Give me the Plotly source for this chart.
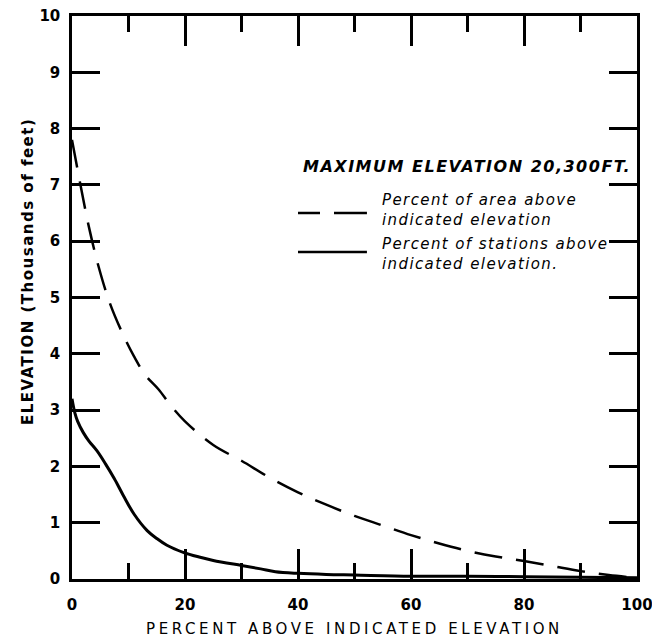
import plotly.graph_objects as go

# Percent of area above indicated elevation (dashed)
area_pct = [0, 1.5, 3, 4.7, 6.7, 9, 11, 13, 15.3, 17.5, 20, 25, 30, 35, 40, 45, 50,
            55, 60, 65, 70, 75, 80, 85, 90, 95, 100]
area_elev = [7.8, 7.0, 6.25, 5.55, 4.9, 4.35, 3.95, 3.62, 3.37, 3.08, 2.8, 2.38, 2.1,
             1.8, 1.54, 1.32, 1.12, 0.95, 0.78, 0.63, 0.5, 0.4, 0.32, 0.23, 0.14, 0.07, 0.02]

# Percent of stations above indicated elevation (solid)
stn_pct = [0, 0.5, 1, 2, 3, 4.4, 5.9, 7.5, 9.1, 11, 13.3, 15, 16.8, 19.8, 22.5, 25, 30,
           33.4, 36, 40, 45, 50, 60, 70, 80, 90, 100]
stn_elev = [3.2, 2.95, 2.8, 2.6, 2.45, 2.28, 2.05, 1.78, 1.48, 1.15, 0.86, 0.72, 0.6,
            0.47, 0.39, 0.33, 0.24, 0.18, 0.13, 0.1, 0.08, 0.07, 0.05, 0.05, 0.04, 0.03, 0.02]

x_major = [0, 20, 40, 60, 80, 100]
x_minor = [10, 30, 50, 70, 90]
y_ticks = list(range(0, 11))

header = "MAXIMUM ELEVATION 20,300FT."
label_area = "Percent of area above<br>indicated elevation"
label_stn = "Percent of stations above<br>indicated elevation."
x_title = "PERCENT ABOVE INDICATED ELEVATION"
y_title = "ELEVATION (Thousands of feet)"

FONT = "DejaVu Sans"


def spaced(s, px):
    return f'<span style="letter-spacing:{px}px">{s}</span>'


fig = go.Figure()
fig.add_trace(go.Scatter(x=area_pct, y=area_elev, mode="lines",
                         line=dict(color="black", width=2.5, dash="28px,14px", shape="spline"),
                         showlegend=False, hoverinfo="skip"))
fig.add_trace(go.Scatter(x=stn_pct, y=stn_elev, mode="lines",
                         line=dict(color="black", width=3, shape="spline"),
                         showlegend=False, hoverinfo="skip"))

# margins compensate for the page's default 8px body margin
fig.update_layout(
    width=660, height=639,
    margin=dict(l=64, r=31, t=8, b=68, autoexpand=False),
    paper_bgcolor="white", plot_bgcolor="white",
    font=dict(family=FONT, color="black"),
    xaxis=dict(range=[0, 100], tickvals=x_major, ticks="inside", ticklen=30, tickwidth=2.5,
               tickcolor="black", showline=True, linecolor="black", linewidth=2.5,
               mirror="allticks", showgrid=False, zeroline=False, automargin=False,
               ticklabeloverflow="allow",
               tickfont=dict(family=FONT, size=15, weight="bold"), ticklabelstandoff=10,
               minor=dict(tickvals=x_minor, ticks="inside", ticklen=16, tickwidth=2.5,
                          tickcolor="black", showgrid=False)),
    yaxis=dict(range=[0, 10], tickvals=y_ticks, ticks="inside", ticklen=28, tickwidth=2.5,
               tickcolor="black", showline=True, linecolor="black", linewidth=2.5,
               mirror="allticks", showgrid=False, zeroline=False, automargin=False,
               ticklabeloverflow="allow",
               tickfont=dict(family=FONT, size=15, weight="bold"), ticklabelstandoff=6),
)

fig.add_annotation(xref="paper", yref="paper", x=0.5, y=-0.088, yanchor="middle",
                   showarrow=False, text=spaced(x_title, 3.6),
                   font=dict(family=FONT, size=15))
fig.add_annotation(xref="paper", yref="paper", x=-0.078, y=0.547, xanchor="center",
                   yanchor="middle", showarrow=False, textangle=-90,
                   text=spaced(y_title, 1.5),
                   font=dict(family=FONT, size=15, weight="bold"))

fig.add_annotation(xref="paper", yref="paper", x=0.993, y=0.732, xanchor="right",
                   yanchor="middle", showarrow=False, text=f"<i>{spaced(header, 1.5)}</i>",
                   font=dict(family=FONT, size=16, weight="bold"))
fig.add_annotation(xref="paper", yref="paper", x=0.545, y=0.656, xanchor="left",
                   yanchor="middle", align="left", showarrow=False,
                   text=f"<i>{spaced(label_area, 1.4)}</i>", font=dict(family=FONT, size=15))
fig.add_annotation(xref="paper", yref="paper", x=0.545, y=0.577, xanchor="left",
                   yanchor="middle", align="left", showarrow=False,
                   text=f"<i>{spaced(label_stn, 1.4)}</i>", font=dict(family=FONT, size=15))

fig.add_shape(type="line", xref="paper", yref="paper", x0=0.400, x1=0.522, y0=0.650, y1=0.650,
              line=dict(color="black", width=2.5, dash="22px,14px,33px"))
fig.add_shape(type="line", xref="paper", yref="paper", x0=0.400, x1=0.522, y0=0.581, y1=0.581,
              line=dict(color="black", width=2.5))

fig.write_html("out.html")
